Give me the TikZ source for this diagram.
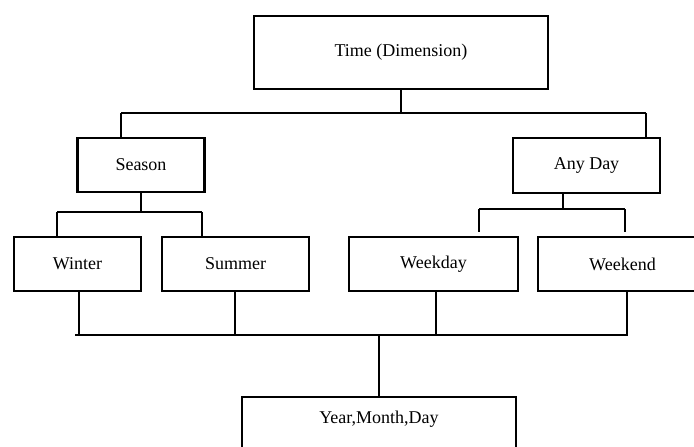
\documentclass[tikz,border=0pt]{standalone}
\usepackage{fontspec}
\setmainfont{Liberation Serif}
\usetikzlibrary{calc}
\begin{document}
\begin{tikzpicture}[x=1pt,y=-1pt,
  box/.style={draw, line width=2.2pt, rectangle, inner sep=0pt, font=\fontsize{18}{21}\selectfont},
  link/.style={line width=2.2pt}]
\useasboundingbox (0,0) rectangle (694,447);
\clip (0,0) rectangle (694,447);
% nodes
\node[box, minimum width=294, minimum height=73] (time) at (401,52.5) {Time (Dimension)};
\node[box, minimum width=127, minimum height=54] (season) at (141,165) {Season};
\node[box, minimum width=147, minimum height=55] (anyday) at (586.5,165.5) {Any Day};
\node[box, minimum width=127, minimum height=54] (winter) at (77.5,264) {Winter};
\node[box, minimum width=147, minimum height=54] (summer) at (235.5,264) {Summer};
\node[box, minimum width=169, minimum height=54] (weekday) at (433.5,264) {Weekday};
\node[box, minimum width=169, minimum height=54] (weekend) at (622.5,264) {Weekend};
\node[box, minimum width=274, text height=26pt, text depth=70pt, anchor=north] (year) at (379,396) {Year,Month,Day};
% junction coordinates
\coordinate (tA) at (121,113);
\coordinate (tB) at (646,113);
\coordinate (sA) at (57,212);
\coordinate (sB) at (202,212);
\coordinate (aC) at (563,209);
\coordinate (aA) at (479,209);
\coordinate (aB) at (625,209);
\coordinate (bL) at (75,335);
\coordinate (bR) at (628,335);
\coordinate (bC) at (379,335);
% top level
\draw[link] (time.south) -- (time.south |- tA);
\draw[link] (tA) -- (tB);
\draw[link] (tA) -- (tA |- season.north);
\draw[link] (tB) -- (tB |- anyday.north);
% season
\draw[link] (season.south) -- (season.south |- sA);
\draw[link] (sA) -- (sB);
\draw[link] (sA) -- (sA |- winter.north);
\draw[link] (sB) -- (sB |- summer.north);
% any day
\draw[link] (aC |- anyday.south) -- (aC);
\draw[link] (aA) -- (aB);
\draw[link] (aA) -- ($(aA |- weekday.north)+(0,-4)$);
\draw[link] (aB) -- ($(aB |- weekend.north)+(0,-4)$);
% bottom bus
\draw[link] (bL) -- (bR);
\draw[link] (79,0 |- winter.south) -- (79,0 |- bL);
\draw[link] (235,0 |- summer.south) -- (235,0 |- bL);
\draw[link] (436,0 |- weekday.south) -- (436,0 |- bL);
\draw[link] (627,0 |- weekend.south) -- (627,0 |- bL);
\draw[link] (bC) -- (year.north);
\end{tikzpicture}
\end{document}
